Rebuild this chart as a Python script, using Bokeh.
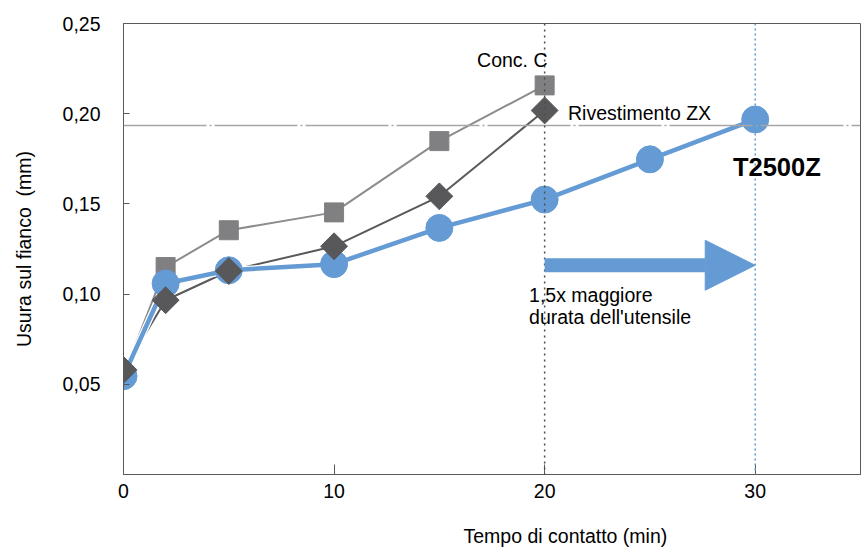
import numpy as np
from bokeh.plotting import figure
from bokeh.models import (Range1d, FixedTicker, CustomJSTickFormatter, Span, Label,
                          Arrow, NormalHead, Title)
from bokeh.embed import file_html
from bokeh.resources import INLINE

# ---- data ----
tempo_c = [0, 2, 5, 10, 15, 20]
usura_c = [0.055, 0.115, 0.1354, 0.1453, 0.1848, 0.2157]          # Conc. C

tempo_zx = [0, 2, 5, 10, 15, 20]
usura_zx = [0.058, 0.0966, 0.1128, 0.1265, 0.1542, 0.2018]        # Rivestimento ZX

tempo_t = [0, 2, 5, 10, 15, 20, 25, 30]
usura_t = [0.0545, 0.1059, 0.1132, 0.1166, 0.1367, 0.1524, 0.1747, 0.1968]  # T2500Z

soglia = 0.1935        # wear criterion line
x_ticks = [0, 10, 20, 30]
y_ticks = [0.05, 0.10, 0.15, 0.20, 0.25]

FONT = "Liberation Sans"
BLUE = "#659bd4"
DARK = "#58585a"
GREY = "#808083"

p = figure(width=862, height=550, output_backend="svg", toolbar_location=None,
           x_range=Range1d(0, 35), y_range=Range1d(0, 0.25),
           min_border_left=123, min_border_right=2, min_border_top=23, min_border_bottom=76)
p.background_fill_color = "white"
p.border_fill_color = "white"
p.outline_line_color = "#595959"
p.outline_line_width = 1
p.xgrid.visible = False
p.ygrid.visible = False

# axes
p.xaxis.ticker = FixedTicker(ticks=x_ticks)
p.yaxis.ticker = FixedTicker(ticks=y_ticks)
p.yaxis.formatter = CustomJSTickFormatter(code="return tick.toFixed(2).replace('.', ',');")
for ax in (p.xaxis[0], p.yaxis[0]):
    ax.axis_line_color = "#595959"
    ax.axis_line_width = 1
    ax.major_tick_line_color = "#595959"
    ax.major_tick_out = 0
    ax.minor_tick_line_color = None
    ax.major_label_text_font = FONT
    ax.major_label_text_font_size = "19.5px"
    ax.major_label_text_color = "black"
    ax.axis_label_text_font = FONT
    ax.axis_label_text_font_size = "19.5px"
    ax.axis_label_text_font_style = "normal"
    ax.axis_label_text_color = "black"
p.xaxis.major_tick_in = 10
p.yaxis.major_tick_in = 6
p.xaxis.major_label_standoff = 9
p.yaxis.major_label_standoff = 23
p.yaxis.axis_label = "Usura sul fianco\u00a0 (mm)"
p.yaxis.axis_label_standoff = 25

# x-axis title, shifted right as in the original
p.add_layout(Title(text="\nTempo di contatto (min)", align="left", offset=340,
                   vertical_align="top", text_font=FONT, text_font_size="19.5px",
                   text_font_style="normal", text_color="black", standoff=0,
                   text_line_height=1.1), "below")

# reference lines
p.add_layout(Span(location=soglia, dimension="width", line_color="#a6a6a6",
                  line_width=1.5, line_dash="83 3 2 3"))
p.add_layout(Span(location=tempo_zx[-1], dimension="height", line_color="#4d4d4d",
                  line_width=1.5, line_dash="2 4"))
p.add_layout(Span(location=tempo_t[-1], dimension="height", line_color="#5b9bd5",
                  line_width=1.5, line_dash="2 3"))

# Conc. C
p.line(tempo_c, usura_c, line_color="#8c8c8c", line_width=2)
p.scatter(tempo_c, usura_c, marker="square", size=19, fill_color=GREY, line_color=GREY)

# Rivestimento ZX line
p.line(tempo_zx, usura_zx, line_color="#595959", line_width=2)

# T2500Z
p.line(tempo_t, usura_t, line_color="white", line_width=7)
p.line(tempo_t, usura_t, line_color=BLUE, line_width=4.5)
p.scatter(tempo_t, usura_t, marker="circle", size=27, fill_color=BLUE, line_color=BLUE)

# Rivestimento ZX markers (diamonds)
p.scatter(tempo_zx, usura_zx, marker="square", angle=np.pi / 4, size=19,
          fill_color=DARK, line_color=DARK)

# arrow
p.add_layout(Arrow(end=NormalHead(size=50, fill_color=BLUE, line_color=BLUE, line_width=1),
                   x_start=tempo_zx[-1], y_start=0.116, x_end=tempo_t[-1], y_end=0.116,
                   line_color=BLUE, line_width=14))

# labels
def lab(x, y, text, size="19.5px", style="normal"):
    p.add_layout(Label(x=x, y=y, text=text, text_font=FONT, text_font_size=size,
                       text_font_style=style, text_color="black",
                       text_align="left", text_baseline="middle"))

lab(16.79, 0.2295, "Conc. C")
lab(21.11, 0.2005, "Rivestimento ZX")
lab(28.94, 0.1703, "T2500Z", size="25.5px", style="bold")
lab(19.26, 0.0994, "1,5x maggiore")
lab(19.26, 0.0872, "durata dell'utensile")

open("out.html", "w").write(file_html(p, INLINE))
